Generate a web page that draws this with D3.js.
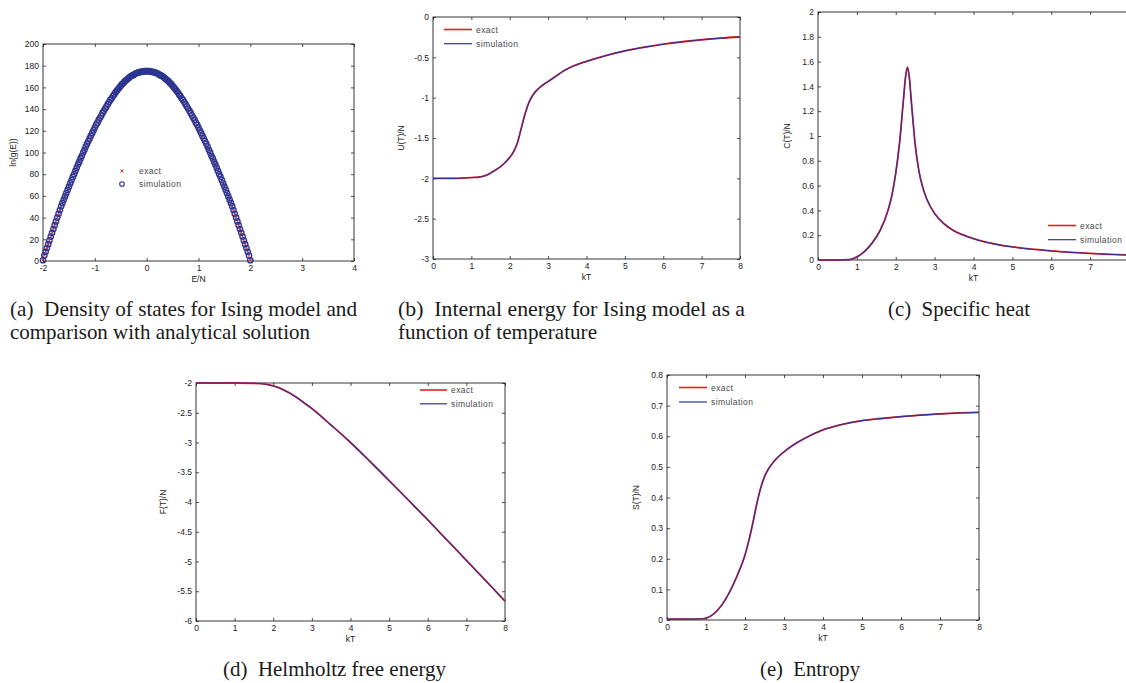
<!DOCTYPE html>
<html><head><meta charset="utf-8">
<script src="https://cdn.jsdelivr.net/npm/d3@7/dist/d3.min.js"></script>
<style>
body{margin:0;background:#fff;}
svg{display:block;}
.cap{font-family:"Liberation Serif","Times New Roman",Times,serif;}
.sans{font-family:"Liberation Sans",Arial,Helvetica,sans-serif;}
</style>
</head><body>
<svg id="chart" width="1126" height="683"></svg>
<script>
// ---------- (a) density of states ----------
const eGrid = [-2,-1.975,-1.95,-1.925,-1.9,-1.875,-1.85,-1.825,-1.8,-1.775,-1.75,-1.725,-1.7,-1.675,-1.65,-1.625,-1.6,-1.575,-1.55,-1.525,-1.5,-1.475,-1.45,-1.425,-1.4,-1.375,-1.35,-1.325,-1.3,-1.275,-1.25,-1.225,-1.2,-1.175,-1.15,-1.125,-1.1,-1.075,-1.05,-1.025,-1,-0.975,-0.95,-0.925,-0.9,-0.875,-0.85,-0.825,-0.8,-0.775,-0.75,-0.725,-0.7,-0.675,-0.65,-0.625,-0.6,-0.575,-0.55,-0.525,-0.5,-0.475,-0.45,-0.425,-0.4,-0.375,-0.35,-0.325,-0.3,-0.275,-0.25,-0.225,-0.2,-0.175,-0.15,-0.125,-0.1,-0.075,-0.05,-0.025,0,
0.025,0.05,0.075,0.1,0.125,0.15,0.175,0.2,0.225,0.25,0.275,0.3,0.325,0.35,0.375,0.4,0.425,0.45,0.475,0.5,0.525,0.55,0.575,0.6,0.625,0.65,0.675,0.7,0.725,0.75,0.775,0.8,0.825,0.85,0.875,0.9,0.925,0.95,0.975,1,1.025,1.05,1.075,1.1,1.125,1.15,1.175,1.2,1.225,1.25,1.275,1.3,1.325,1.35,1.375,1.4,1.425,1.45,1.475,1.5,1.525,1.55,1.575,1.6,1.625,1.65,1.675,1.7,1.725,1.75,1.775,1.8,1.825,1.85,1.875,1.9,1.925,1.95,1.975,2];
const lnG = [0.7,5,8.5,12,15.5,19,22.5,26,29.5,33,36.5,40,43.5,47,50.5,53.5,56.5,59.5,62.5,65.5,68.5,71.5,74.5,77.5,80,83,86,89,91.5,94.5,97,100,102.5,105.5,108,110.5,113,115.5,118,120.5,123,125.5,127.5,130,132,134,136.5,138.5,140.5,142.5,144.5,146.5,148.5,150,152,153.5,155.5,157,158.5,160,161.5,163,164,165.5,166.5,167.5,168.5,169.5,170.5,171,171.5,172.5,173,173.5,174,174,174.5,174.5,175,175,175,
175,175,174.5,174.5,174,174,173.5,173,172.5,171.5,171,170.5,169.5,168.5,167.5,166.5,165.5,164,163,161.5,160,158.5,157,155.5,153.5,152,150,148.5,146.5,144.5,142.5,140.5,138.5,136.5,134,132,130,127.5,125.5,123,120.5,118,115.5,113,110.5,108,105.5,102.5,100,97,94.5,91.5,89,86,83,80,77.5,74.5,71.5,68.5,65.5,62.5,59.5,56.5,53.5,50.5,47,43.5,40,36.5,33,29.5,26,22.5,19,15.5,12,8.5,5,0.7];

// ---------- (b) internal energy ----------
const tU = [0,0.5,1,1.2,1.4,1.6,1.8,2,2.1,2.2,2.3,2.4,2.45,2.5,2.55,2.6,2.7,2.8,2.9,3,3.2,3.4,3.6,3.8,4,4.5,5,5.5,6,6.5,7,7.5,8];
const uExact = [-2,-2,-1.99,-1.985,-1.96,-1.905,-1.84,-1.74,-1.67,-1.56,-1.38,-1.2,-1.125,-1.06,-1.01,-0.97,-0.91,-0.866,-0.83,-0.8,-0.735,-0.67,-0.62,-0.582,-0.55,-0.48,-0.42,-0.375,-0.337,-0.307,-0.282,-0.262,-0.248];
const uSim   = [-2,-2,-1.99,-1.985,-1.96,-1.905,-1.84,-1.74,-1.67,-1.56,-1.38,-1.2,-1.125,-1.06,-1.01,-0.97,-0.91,-0.866,-0.83,-0.8,-0.735,-0.67,-0.62,-0.582,-0.55,-0.48,-0.42,-0.375,-0.337,-0.307,-0.282,-0.262,-0.248];

// ---------- (c) specific heat ----------
const tC = [0,0.5,0.8,1,1.2,1.4,1.6,1.8,1.9,2,2.1,2.2,2.25,2.3,2.35,2.4,2.45,2.5,2.6,2.7,2.8,3,3.25,3.5,3.75,4,4.5,5,5.5,6,6.5,7,7.5,8];
const cExact = [0,0,0.003,0.025,0.07,0.14,0.24,0.4,0.52,0.7,0.95,1.3,1.47,1.555,1.47,1.28,1.1,0.93,0.71,0.58,0.49,0.375,0.29,0.235,0.2,0.172,0.132,0.105,0.087,0.073,0.062,0.053,0.046,0.04];
const cSim   = [0,0,0.003,0.025,0.07,0.14,0.24,0.4,0.52,0.7,0.95,1.3,1.47,1.555,1.47,1.28,1.1,0.93,0.71,0.58,0.49,0.375,0.29,0.235,0.2,0.172,0.132,0.105,0.087,0.073,0.062,0.053,0.046,0.04];

// ---------- (d) free energy ----------
const tF = [0,0.5,1,1.5,1.8,2,2.2,2.4,2.6,2.8,3,3.5,4,4.5,5,5.5,6,6.5,7,7.5,8];
const fExact = [-2,-2,-2,-2.005,-2.02,-2.05,-2.095,-2.16,-2.24,-2.335,-2.43,-2.71,-3,-3.315,-3.64,-3.97,-4.3,-4.64,-4.98,-5.32,-5.665];
const fSim   = [-2,-2,-2,-2.005,-2.02,-2.05,-2.095,-2.16,-2.24,-2.335,-2.43,-2.71,-3,-3.315,-3.64,-3.97,-4.3,-4.64,-4.98,-5.32,-5.665];

// ---------- (e) entropy ----------
const tS = [0,0.5,0.9,1,1.2,1.4,1.6,1.8,2,2.1,2.2,2.3,2.4,2.5,2.6,2.7,2.8,3,3.2,3.5,4,4.5,5,5.5,6,6.5,7,7.5,8];
const sExact = [0.003,0.003,0.004,0.006,0.02,0.048,0.09,0.145,0.212,0.26,0.316,0.378,0.43,0.468,0.493,0.511,0.526,0.549,0.568,0.591,0.621,0.639,0.651,0.658,0.664,0.669,0.673,0.676,0.678];
const sSim   = [0.003,0.003,0.004,0.006,0.02,0.048,0.09,0.145,0.212,0.26,0.316,0.378,0.43,0.468,0.493,0.511,0.526,0.549,0.568,0.591,0.621,0.639,0.651,0.658,0.664,0.669,0.673,0.676,0.678];

// ---------- ticks / labels ----------
const ticksA_x = [-2,-1,0,1,2,3,4];
const ticksA_y = [0,20,40,60,80,100,120,140,160,180,200];
const ticksT = [0,1,2,3,4,5,6,7,8];
const ticksC_x = [0,1,2,3,4,5,6,7];
const ticksB_y = [-3,-2.5,-2,-1.5,-1,-0.5,0];
const ticksC_y = [0,0.2,0.4,0.6,0.8,1,1.2,1.4,1.6,1.8,2];
const ticksD_y = [-6,-5.5,-5,-4.5,-4,-3.5,-3,-2.5,-2];
const ticksE_y = [0,0.1,0.2,0.3,0.4,0.5,0.6,0.7,0.8];
const legendNames = ["exact","simulation"];

const RED = "#ee1c1c", BLUE = "#2f3398", DOT_BLUE = "#2a3592", LEG_TXT = "#4a4a4a";
const svg = d3.select("#chart");
const fmt = d => String(Math.round(d * 1000) / 1000);

function frame(cfg) {
  const x = d3.scaleLinear().domain(cfg.xd).range([cfg.l, cfg.r]);
  const y = d3.scaleLinear().domain(cfg.yd).range([cfg.b, cfg.t]);
  const g = svg.append("g");
  const style = sel => {
    sel.attr("font-family", null).attr("font-size", null);
    sel.select(".domain").remove();
    sel.selectAll("line").attr("stroke", "#222").attr("stroke-width", 0.8);
    sel.selectAll("text").attr("class", "sans").attr("font-size", 8.5).attr("fill", "#222");
  };
  g.append("g").attr("transform", `translate(0,${cfg.b})`)
    .call(d3.axisBottom(x).tickValues(cfg.xt).tickFormat(fmt).tickSizeInner(-3).tickSizeOuter(0).tickPadding(4)).call(style);
  g.append("g").attr("transform", `translate(0,${cfg.t})`)
    .call(d3.axisTop(x).tickValues(cfg.xt).tickFormat("").tickSizeInner(-3).tickSizeOuter(0)).call(style);
  g.append("g").attr("transform", `translate(${cfg.l},0)`)
    .call(d3.axisLeft(y).tickValues(cfg.yt).tickFormat(fmt).tickSizeInner(-3).tickSizeOuter(0).tickPadding(4)).call(style);
  g.append("g").attr("transform", `translate(${cfg.r},0)`)
    .call(d3.axisRight(y).tickValues(cfg.yt).tickFormat("").tickSizeInner(-3).tickSizeOuter(0)).call(style);
  g.append("rect").attr("x", cfg.l).attr("y", cfg.t).attr("width", cfg.r - cfg.l).attr("height", cfg.b - cfg.t)
    .attr("fill", "none").attr("stroke", "#222").attr("stroke-width", 0.9);
  g.append("text").attr("x", (cfg.l + cfg.r) / 2).attr("y", cfg.b + 21).attr("text-anchor", "middle")
    .attr("class", "sans").attr("font-size", 8.5).attr("fill", "#222").text(cfg.xlab);
  g.append("text").attr("transform", `translate(${cfg.l - cfg.ylOff},${(cfg.t + cfg.b) / 2}) rotate(-90)`)
    .attr("text-anchor", "middle").attr("class", "sans").attr("font-size", 8.5).attr("fill", "#222").text(cfg.ylab);
  return {x, y, g};
}

function linePanel(cfg, tArr, exArr, simArr) {
  const {x, y, g} = frame(cfg);
  const mk = arr => d3.line().x((d, i) => x(tArr[i])).y(d => y(d)).curve(d3.curveMonotoneX)(arr);
  g.append("path").attr("d", mk(exArr)).attr("fill", "none").attr("stroke", RED).attr("stroke-width", 1.8);
  g.append("path").attr("d", mk(simArr)).attr("fill", "none").attr("stroke", BLUE).attr("stroke-width", 1.1);
  const L = cfg.leg;
  [RED, BLUE].forEach((col, i) => {
    const yy = L.y + i * L.dy;
    g.append("line").attr("x1", L.x1).attr("x2", L.x2).attr("y1", yy).attr("y2", yy)
      .attr("stroke", col).attr("stroke-width", i === 0 ? 1.6 : 1.2);
    g.append("text").attr("x", L.x2 + 4).attr("y", yy + 3).attr("class", "sans").attr("font-size", 8.5)
      .attr("letter-spacing", 0.4).attr("fill", LEG_TXT).text(legendNames[i]);
  });
}

// panel (a)
(function () {
  const cfg = {l: 43, r: 354, t: 44, b: 261, xd: [-2, 4], yd: [0, 200], xt: ticksA_x, yt: ticksA_y,
    xlab: "E/N", ylab: "ln(g(E))", ylOff: 27};
  const {x, y, g} = frame(cfg);
  const cross = (sel, cx, cy, s) => sel.append("path")
    .attr("d", `M${cx - s},${cy - s}L${cx + s},${cy + s}M${cx - s},${cy + s}L${cx + s},${cy - s}`)
    .attr("stroke", RED).attr("stroke-width", 0.9).attr("fill", "none");
  const ex = g.append("g");
  eGrid.forEach((e, i) => cross(ex, x(e), y(lnG[i]), 1.2));
  g.append("g").selectAll("circle").data(eGrid).join("circle")
    .attr("cx", d => x(d)).attr("cy", (d, i) => y(lnG[i])).attr("r", 2.7)
    .attr("fill", "none").attr("stroke", DOT_BLUE).attr("stroke-width", 1.3);
  cross(g, 122, 171, 1.5);
  g.append("circle").attr("cx", 122).attr("cy", 184).attr("r", 2.3).attr("fill", "none").attr("stroke", DOT_BLUE).attr("stroke-width", 1.1);
  legendNames.forEach((n, i) => g.append("text").attr("x", 139).attr("y", 174 + i * 13)
    .attr("class", "sans").attr("font-size", 8.5).attr("letter-spacing", 0.4).attr("fill", LEG_TXT).text(n));
})();

linePanel({l: 433, r: 740, t: 17, b: 259, xd: [0, 8], yd: [-3, 0], xt: ticksT, yt: ticksB_y,
  xlab: "kT", ylab: "U(T)/N", ylOff: 29, leg: {x1: 444, x2: 472, y: 29.5, dy: 14.2}}, tU, uExact, uSim);
linePanel({l: 818, r: 1129, t: 12, b: 260, xd: [0, 8], yd: [0, 2], xt: ticksC_x, yt: ticksC_y,
  xlab: "kT", ylab: "C(T)/N", ylOff: 28, leg: {x1: 1048, x2: 1076, y: 225.5, dy: 14.2}}, tC, cExact, cSim);
linePanel({l: 196, r: 505, t: 383, b: 621, xd: [0, 8], yd: [-6, -2], xt: ticksT, yt: ticksD_y,
  xlab: "kT", ylab: "F(T)/N", ylOff: 30, leg: {x1: 420, x2: 447, y: 390, dy: 13.8}}, tF, fExact, fSim);
linePanel({l: 667, r: 979, t: 375, b: 620, xd: [0, 8], yd: [0, 0.8], xt: ticksT, yt: ticksE_y,
  xlab: "kT", ylab: "S(T)/N", ylOff: 28, leg: {x1: 679, x2: 707, y: 387.5, dy: 14.5}}, tS, sExact, sSim);

// captions
const captions = [
  {x: 10, y: 316, w: 347, t: "(a)  Density of states for Ising model and"},
  {x: 10, y: 339, w: 300, t: "comparison with analytical solution"},
  {x: 398, y: 316, w: 347, t: "(b)  Internal energy for Ising model as a"},
  {x: 398, y: 339, w: 199, t: "function of temperature"},
  {x: 888, y: 316, w: 142, t: "(c)  Specific heat"},
  {x: 223, y: 676, w: 223, t: "(d)  Helmholtz free energy"},
  {x: 760, y: 676, w: 100, t: "(e)  Entropy"}
];
svg.append("g").selectAll("text").data(captions).join("text")
  .attr("class", "cap")
  .attr("x", d => d.x).attr("y", d => d.y).attr("textLength", d => d.w).attr("lengthAdjust", "spacingAndGlyphs")
  .attr("font-size", 21).attr("fill", "#1a1a1a")
  .style("white-space", "pre").text(d => d.t);
</script>
</body></html>
